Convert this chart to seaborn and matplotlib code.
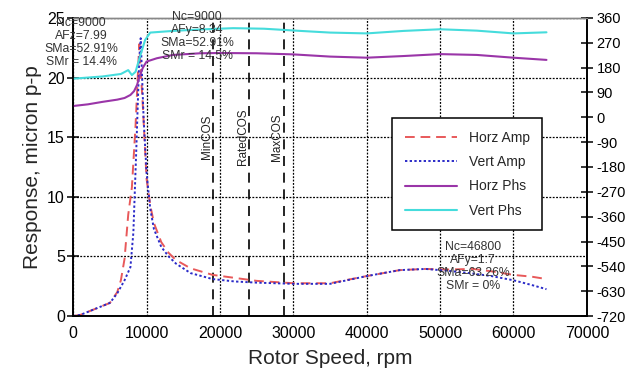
import matplotlib
matplotlib.use("Agg")
import matplotlib.pyplot as plt
import seaborn as sns
import numpy as np
import pandas as pd

# ---------------- data ----------------
horz_speed = [0, 1000, 2000, 3000, 4000, 5000, 6000, 6500, 7000, 7500, 8000, 8500, 9000,
              9500, 10000, 10500, 11000, 12000, 13000, 14000, 16000, 19000, 22000, 25000,
              30000, 35000, 40000, 44500, 48000, 51000, 54500, 57000, 60000, 62500, 64500]
horz_amp = [0, 0.1, 0.35, 0.6, 0.85, 1.1, 2.0, 3.0, 4.8, 8.5, 10.8, 16.0, 22.8,
            17.5, 11.5, 9.3, 7.8, 6.2, 5.3, 4.7, 4.0, 3.45, 3.2, 2.95,
            2.75, 2.75, 3.35, 3.85, 3.95, 3.9, 3.95, 3.75, 3.45, 3.3, 3.1]

vert_speed = [0, 1000, 2000, 3000, 4000, 5000, 6000, 7000, 7800, 8200, 8600, 9000, 9200,
              9600, 10000, 10500, 11000, 12000, 13000, 14000, 16000, 19000, 22000, 25000,
              30000, 35000, 40000, 44500, 48000, 51000, 54000, 57000, 60000, 62500, 64500]
vert_amp = [0, 0.1, 0.35, 0.6, 0.85, 1.1, 1.9, 3.0, 4.1, 7.0, 14.0, 21.5, 23.3,
            16.5, 12.0, 9.0, 7.3, 5.8, 5.0, 4.4, 3.6, 3.1, 2.9, 2.8,
            2.7, 2.7, 3.35, 3.85, 3.95, 3.8, 3.6, 3.35, 3.0, 2.6, 2.25]

hphs_speed = [0, 2000, 4000, 6000, 7000, 7800, 8300, 8700, 9100, 9500, 10000, 11400, 13600,
              17300, 20000, 25000, 30000, 35000, 40000, 45000, 50000, 55000, 60000, 64500]
horz_phs = [41, 47, 56, 64, 70, 81, 95, 117, 153, 180, 202, 214, 226,
            232, 233, 232, 228, 220, 216, 222, 229, 226, 216, 208]

vphs_speed = [0, 4000, 6500, 7500, 8000, 8500, 9100, 9800, 10500, 13600, 17000, 21800,
              26000, 31000, 35000, 40000, 45000, 50000, 55000, 60000, 64500]
vert_phs = [140, 148, 157, 171, 153, 165, 220, 280, 307, 313, 318, 323,
            321, 313, 307, 304, 313, 319, 314, 304, 308]

cos_speeds = [19100, 24000, 28700]
cos_labels = ["MinCOS", "RatedCOS", "MaxCOS"]

annot_x = [1100, 16900, 54500]
annot_y = [25.1, 25.6, 6.3]
annot_text = ["Nc=9000\nAFz=7.99\nSMa=52.91%\nSMr = 14.4%",
              "Nc=9000\nAFy=8.34\nSMa=52.91%\nSMr = 14.5%",
              "Nc=46800\nAFy=1.7\nSMa=63.26%\nSMr = 0%"]

x_ticks = [0, 10000, 20000, 30000, 40000, 50000, 60000, 70000]
y_ticks = [0, 5, 10, 15, 20, 25]
phs_ticks = [360, 270, 180, 90, 0, -90, -180, -270, -360, -450, -540, -630, -720]

# ---------------- style ----------------
sns.set_style("white")
plt.rcParams['font.family'] = ['Liberation Sans', 'DejaVu Sans']
plt.rcParams['axes.unicode_minus'] = False

fig = plt.figure(figsize=(6.31, 3.74), dpi=100)
ax = fig.add_axes([0.116, 0.155, 0.814, 0.797])

c_horz_amp = "#E8595A"
c_vert_amp = "#2B2BC8"
c_horz_phs = "#9A35A8"
c_vert_phs = "#45DCDC"

ax.set_xlim(0, 70000)
ax.set_ylim(0, 25)
ax.set_xticks(x_ticks)
ax.set_yticks(y_ticks)
ax.grid(True, linestyle=(0, (1.5, 1.2)), color="black", linewidth=0.9)
ax.set_axisbelow(True)

for s in cos_speeds:
    ax.axvline(s, color="black", linestyle=(0, (6, 4)), linewidth=1.2, zorder=1.5)
for s, lab in zip(cos_speeds, cos_labels):
    ax.text(s - 900, 15, lab, rotation=90, ha="center", va="center", fontsize=8.5,
            color="#222222")

sns.lineplot(x=horz_speed, y=horz_amp, ax=ax, color=c_horz_amp, linestyle=(0, (5, 3)),
             linewidth=1.4, label="Horz Amp", legend=False)
sns.lineplot(x=vert_speed, y=vert_amp, ax=ax, color=c_vert_amp, linestyle=(0, (1.2, 1.2)),
             linewidth=1.4, label="Vert Amp", legend=False)

ax2 = ax.twinx()
ax2.set_ylim(-720, 360)
ax2.set_yticks(phs_ticks)
sns.lineplot(x=hphs_speed, y=horz_phs, ax=ax2, color=c_horz_phs, linewidth=1.5,
             label="Horz Phs", legend=False)
sns.lineplot(x=vphs_speed, y=vert_phs, ax=ax2, color=c_vert_phs, linewidth=1.5,
             label="Vert Phs", legend=False)
ax2.set_xlim(0, 70000)

for x, y, t in zip(annot_x, annot_y, annot_text):
    ax2.text(x, -720 + y / 25 * 1080, t, ha="center", va="top", fontsize=8.8,
             color="#333333", linespacing=1.12, zorder=5, clip_on=False)

for a in (ax, ax2):
    for sp in a.spines.values():
        sp.set_color("black")
        sp.set_linewidth(1.2)
    a.spines["top"].set_color("#888888")
    a.spines["top"].set_linewidth(1.0)

ax.tick_params(axis="both", direction="inout", length=8, width=1.1, colors="black",
               labelsize=11.5, pad=3)
ax.tick_params(axis="y", pad=2)
ax2.tick_params(axis="y", direction="inout", length=8, width=1.1, colors="black",
                labelsize=10.5, pad=3)
ax2.set_ylabel("")

ax.set_xlabel("Rotor Speed, rpm", fontsize=15, labelpad=6)
ax.set_ylabel("Response, micron p-p", fontsize=15, labelpad=4)

handles = ax.get_lines()[-2:] + ax2.get_lines()[-2:]
labels = ["Horz Amp", "Vert Amp", "Horz Phs", "Vert Phs"]
leg = ax2.legend(handles, labels, loc="upper left", bbox_to_anchor=(0.621, 0.664),
                 borderaxespad=0, fontsize=10, handlelength=3.8, labelspacing=0.75,
                 fancybox=False, framealpha=1, edgecolor="black", borderpad=0.9,
                 handletextpad=0.8)
leg.get_frame().set_linewidth(1.1)
leg.set_zorder(10)

fig.savefig("out.png", dpi=100)
